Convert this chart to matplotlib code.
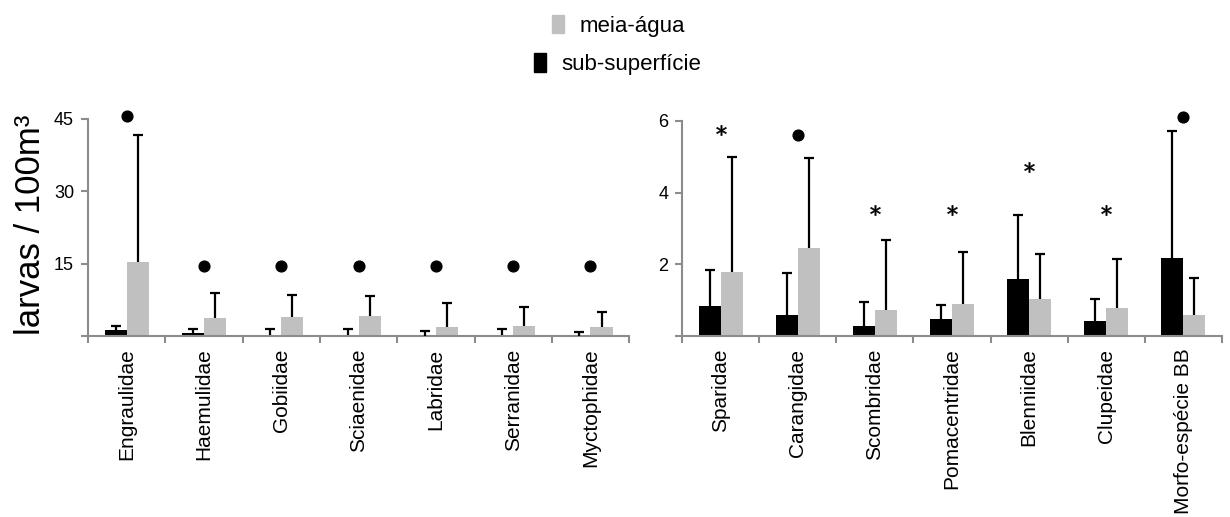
import numpy as np
import matplotlib
matplotlib.use('Agg')
from matplotlib import pyplot as plt
from matplotlib.patches import Patch

plt.rcParams['font.family'] = ['Liberation Sans', 'DejaVu Sans']

# - data -----------------------------------------------------------------------
left_fam = ['Engraulidae', 'Haemulidae', 'Gobiidae', 'Sciaenidae',
            'Labridae', 'Serranidae', 'Myctophidae']
left_sub = [1.2, 0.7, 0.3, 0.3, 0.1, 0.3, 0.1]
left_sub_top = [2.1, 1.5, 1.4, 1.4, 1.1, 1.4, 0.9]
left_meia = [15.4, 3.65, 3.9, 4.1, 1.9, 2.1, 1.9]
left_meia_top = [41.6, 8.9, 8.6, 8.3, 6.9, 6.1, 5.0]
left_sig = ['o', 'o', 'o', 'o', 'o', 'o', 'o']
left_sig_y = [45.5, 14.5, 14.5, 14.5, 14.5, 14.5, 14.5]

right_fam = ['Sparidae', 'Carangidae', 'Scombridae', 'Pomacentridae',
             'Blenniidae', 'Clupeidae', 'Morfo-espécie BB']
right_sub = [0.85, 0.6, 0.27, 0.48, 1.59, 0.42, 2.17]
right_sub_top = [1.83, 1.76, 0.95, 0.88, 3.38, 1.02, 5.71]
right_meia = [1.78, 2.46, 0.74, 0.89, 1.03, 0.78, 0.6]
right_meia_top = [4.99, 4.96, 2.67, 2.34, 2.30, 2.16, 1.62]
right_sig = ['*', 'o', '*', '*', '*', '*', 'o']
right_sig_y = [5.76, 5.62, 3.52, 3.52, 4.72, 3.52, 6.1]

c_sub = 'black'
c_meia = '#c0c0c0'
c_axis = '#8c8c8c'
bw = 0.285


def panel(ax, fam, sub, sub_top, meia, meia_top, sig, sig_y, ymax, yticks):
    x = np.arange(len(fam))
    ax.bar(x - bw / 2, sub, bw, color=c_sub, zorder=2)
    ax.bar(x + bw / 2, meia, bw, color=c_meia, zorder=2)
    # one-sided error bars, cap at top only
    for xs, lo, hi in [(x - bw / 2, sub, sub_top), (x + bw / 2, meia, meia_top)]:
        ax.vlines(xs, lo, hi, color='black', lw=1.6, zorder=3)
        ax.scatter(xs, hi, marker='_', s=45, color='black', lw=1.6, zorder=3)
    for xi, m, yv in zip(x, sig, sig_y):
        if m == 'o':
            ax.scatter(xi, yv, marker='o', s=60, color='black', clip_on=False, zorder=4)
        else:
            ax.scatter(xi, yv, marker='$*$', s=55, color='black', lw=0.4,
                       clip_on=False, zorder=4)
    ax.set_xlim(-0.5, len(fam) - 0.5)
    ax.set_ylim(0, ymax)
    ax.set_xticks(np.arange(len(fam) + 1) - 0.5)
    ax.set_xticklabels([])
    ax.set_xticks(x, minor=True)
    ax.set_xticklabels(fam, minor=True, rotation=90, fontsize=15)
    ax.tick_params(axis='x', which='minor', length=0, pad=9)
    ax.tick_params(axis='x', which='major', length=5, width=1.5, color=c_axis)
    ax.set_yticks(yticks)
    ax.set_yticklabels([''] + [str(t) for t in yticks[1:]], fontsize=13)
    ax.tick_params(axis='y', length=5, width=1.5, color=c_axis, pad=5)
    for s in ['top', 'right']:
        ax.spines[s].set_visible(False)
    for s in ['left', 'bottom']:
        ax.spines[s].set_color(c_axis)
        ax.spines[s].set_linewidth(1.5)


fig = plt.figure(figsize=(12.3, 5.17), dpi=100)
ax1 = fig.add_axes([0.0715, 0.350, 0.4400, 0.420])
ax2 = fig.add_axes([0.5545, 0.350, 0.4390, 0.416])

panel(ax1, left_fam, left_sub, left_sub_top, left_meia, left_meia_top,
      left_sig, left_sig_y, 45, [0, 15, 30, 45])
panel(ax2, right_fam, right_sub, right_sub_top, right_meia, right_meia_top,
      right_sig, right_sig_y, 6, [0, 2, 4, 6])

fig.text(0.025, 0.565, 'larvas / 100m³', rotation=90, fontsize=25,
         ha='center', va='center')

# legend, two centred lines
fig.legend(handles=[Patch(color=c_meia, label='meia-água')], loc='center',
           bbox_to_anchor=(0.503, 0.950), frameon=False, fontsize=16,
           handlelength=0.55, handleheight=0.9, handletextpad=0.7)
fig.legend(handles=[Patch(color=c_sub, label='sub-superfície')], loc='center',
           bbox_to_anchor=(0.502, 0.876), frameon=False, fontsize=16,
           handlelength=0.55, handleheight=0.9, handletextpad=0.7)

fig.savefig('out.png', dpi=100)
